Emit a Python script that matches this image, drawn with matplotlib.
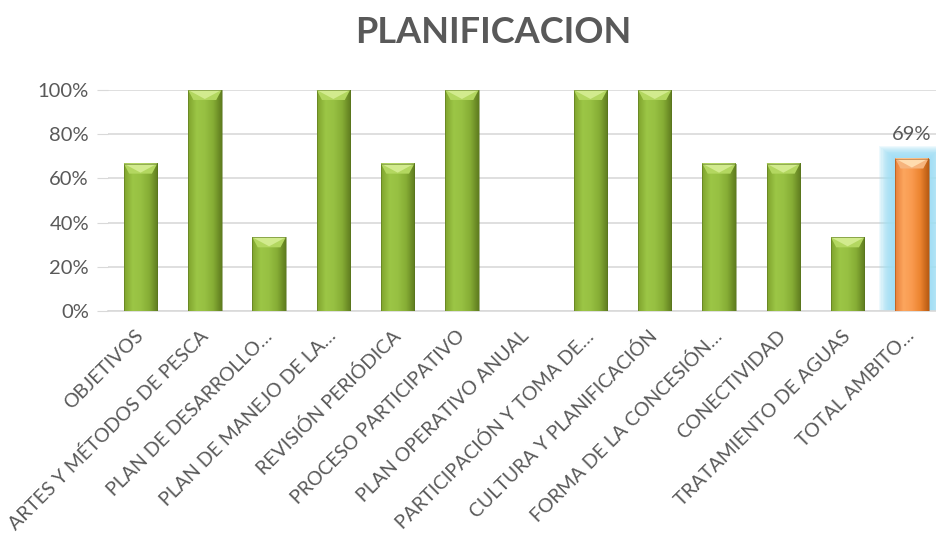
import matplotlib
matplotlib.use("Agg")
import matplotlib.pyplot as plt
import numpy as np
from matplotlib.colors import LinearSegmentedColormap
from matplotlib.patches import Polygon

categories = [
    "OBJETIVOS",
    "ARTES Y MÉTODOS DE PESCA",
    "PLAN DE DESARROLLO…",
    "PLAN DE MANEJO DE LA…",
    "REVISIÓN PERIÓDICA",
    "PROCESO PARTICIPATIVO",
    "PLAN OPERATIVO ANUAL",
    "PARTICIPACIÓN Y TOMA DE…",
    "CULTURA Y PLANIFICACIÓN",
    "FORMA DE LA CONCESIÓN…",
    "CONECTIVIDAD",
    "TRATAMIENTO DE AGUAS",
    "TOTAL AMBITO…",
]
values = [0.6667, 1.0, 0.3333, 1.0, 0.6667, 1.0, 0.0, 1.0, 1.0, 0.6667, 0.6667, 0.3333, 0.69]
total_label = "69%"
y_ticks = [0, 0.2, 0.4, 0.6, 0.8, 1.0]
y_tick_labels = ["0%", "20%", "40%", "60%", "80%", "100%"]
title = "PLANIFICACION"

FONT = ["Lato", "DejaVu Sans"]
TEXT_GREY = "#595959"

fig = plt.figure(figsize=(9.37, 5.36), dpi=100)
ax = fig.add_axes([0.1157, 0.4198, 0.8918, 0.4123])

x = np.arange(len(categories))
bar_w = 0.52

# soft blue glow behind the total bar
glow_idx = len(values) - 1
n_glow = 14
for k in range(n_glow):
    t = 1 - k / n_glow
    grow = 0.50 * t
    ax.bar(x[glow_idx], values[glow_idx] + t * 0.055, width=bar_w + grow,
           color="#9fdef5", alpha=0.17, linewidth=0, zorder=1)

bars = ax.bar(x, values, width=bar_w, color="none", linewidth=0, zorder=3)

green = LinearSegmentedColormap.from_list(
    "g", ["#7fa32d", "#9cc646", "#97c042", "#86ad35", "#5f7c1f"])
orange = LinearSegmentedColormap.from_list(
    "o", ["#e8803a", "#fca65e", "#f99a4f", "#ec842f", "#b85a12"])

grad = np.linspace(0, 1, 64).reshape(1, -1)
px_per_unit_y = 221.0
for i, b in enumerate(bars):
    h = b.get_height()
    if h <= 0:
        continue
    x0 = b.get_x()
    w = b.get_width()
    cmap = orange if i == glow_idx else green
    ax.imshow(grad, cmap=cmap, extent=[x0, x0 + w, 0, h], aspect="auto",
              zorder=3, interpolation="bicubic")
    # bevelled top face
    d = 10 / px_per_unit_y
    inset = w * 0.16
    top_col = "#ffdcae" if i == glow_idx else "#d2eb8e"
    side_col = "#f6b47c" if i == glow_idx else "#b3d760"
    ax.add_patch(Polygon([[x0, h], [x0 + w, h], [x0 + w - inset, h - d],
                          [x0 + inset, h - d]], closed=True, color=side_col,
                         zorder=4, linewidth=0))
    ax.add_patch(Polygon([[x0, h], [x0 + w, h], [x0 + w / 2, h - d * 0.9]],
                         closed=True, color=top_col, zorder=4, linewidth=0))
    # darker outline edges
    edge_col = "#a04d0e" if i == glow_idx else "#55701c"
    ax.plot([x0, x0, x0 + w, x0 + w], [0, h, h, 0], color=edge_col,
            linewidth=0.6, alpha=0.6, zorder=5)

ax.text(x[glow_idx], values[glow_idx] + 0.07, total_label, ha="center",
        va="bottom", fontsize=14.5, color=TEXT_GREY, family=FONT, zorder=6)

ax.set_xlim(-0.5, len(categories) - 0.5)
ax.set_ylim(0, 1.0)
ax.set_yticks(y_ticks)
ax.set_yticklabels(y_tick_labels, family=FONT, fontsize=14.5, color=TEXT_GREY)
ax.set_xticks(x)
ax.set_xticklabels(categories, rotation=45, ha="right", va="center",
                   rotation_mode="anchor",
                   family=FONT, fontsize=14, color=TEXT_GREY)
ax.tick_params(axis="x", length=0, pad=16)
ax.tick_params(axis="y", length=8, color="#d9d9d9", pad=6)

ax.grid(axis="y", color="#d9d9d9", linewidth=1.2, zorder=0)
ax.set_axisbelow(True)
for s in ["top", "right", "left"]:
    ax.spines[s].set_visible(False)
ax.spines["bottom"].set_color("#d9d9d9")
ax.spines["bottom"].set_linewidth(1.2)

fig.text(0.526, 0.94, title, ha="center", va="center", fontsize=26,
         fontweight="bold", color=TEXT_GREY, family=FONT)

fig.savefig("out.png", dpi=100)
